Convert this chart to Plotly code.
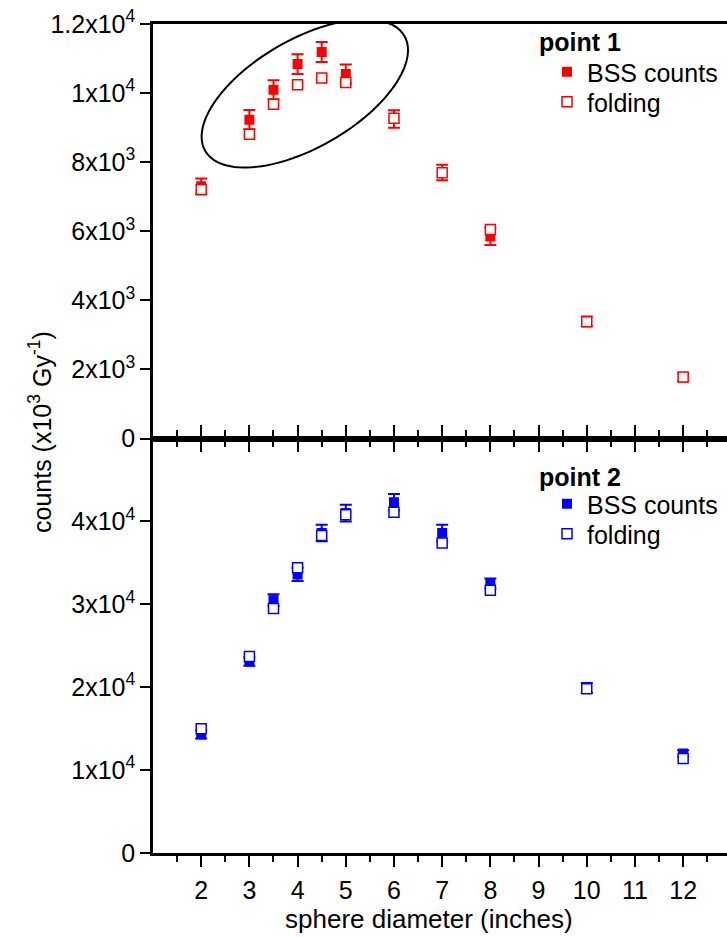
import numpy as np
import plotly.graph_objects as go

# sphere diameters (inches)
diam = [2, 3, 3.5, 4, 4.5, 5, 6, 7, 8, 10, 12]

# point 1: measured BSS counts, their uncertainties, and folded response
p1_bss = [7300, 9230, 10100, 10840, 11190, 10550, 9250, 7700, 5850, 3390, 1770]
p1_bss_err = [230, 280, 275, 285, 290, 275, 256, 227, 250, 140, 110]
p1_fold = [7210, 8810, 9680, 10240, 10440, 10310, 9270, 7690, 6050, 3380, 1780]

# point 2
p2_bss = [14300, 23100, 30500, 33600, 38600, 41000, 42300, 38600, 32500, 19900, 12000]
p2_bss_err = [500, 500, 700, 800, 1000, 1000, 1000, 1000, 600, 600, 400]
p2_fold = [15000, 23700, 29500, 34400, 38300, 40800, 41100, 37400, 31700, 19800, 11400]

# axis ticks
x_major = [2, 3, 4, 5, 6, 7, 8, 9, 10, 11, 12]
x_minor = [1.5, 2.5, 3.5, 4.5, 5.5, 6.5, 7.5, 8.5, 9.5, 10.5, 11.5, 12.5]
y1_vals = [0, 2000, 4000, 6000, 8000, 10000, 12000]
y1_text = ["0", "2x10<sup>3</sup>", "4x10<sup>3</sup>", "6x10<sup>3</sup>",
           "8x10<sup>3</sup>", "1x10<sup>4</sup>", "1.2x10<sup>4</sup>"]
y2_vals = [0, 10000, 20000, 30000, 40000]
y2_text = ["0", "1x10<sup>4</sup>", "2x10<sup>4</sup>", "3x10<sup>4</sup>", "4x10<sup>4</sup>"]

W, H = 727, 937
M = dict(l=153, r=0, t=24, b=84)
X_RANGE = [1, 12.91]
Y1_RANGE = [0, 12000]
Y2_RANGE = [0, 50000]

RED = "#ff0000"
BLUE = "#0000ff"
FONT = "Liberation Sans, Arial, Helvetica, sans-serif"
FS = 25

plot_w = W - M["l"] - M["r"]
plot_h = H - M["t"] - M["b"]


def paper_y(px_top):
    return 1 - (px_top - M["t"]) / plot_h


def paper_x(px_left):
    return (px_left - M["l"]) / plot_w


fig = go.Figure()


def add_series(y_bss, err, y_fold, color, xa, ya, leg_bss, leg_fold):
    fig.add_trace(go.Scatter(
        x=diam, y=y_bss, mode="markers", name="BSS counts",
        xaxis=xa, yaxis=ya, legend=leg_bss,
        marker=dict(symbol="square", size=10, color=color, line=dict(width=0)),
        error_y=dict(type="data", array=err, visible=True, color=color,
                     thickness=2, width=6),
    ))
    fig.add_trace(go.Scatter(
        x=diam, y=y_fold, mode="markers", name="folding",
        xaxis=xa, yaxis=ya, legend=leg_fold,
        marker=dict(symbol="square", size=10, color="white",
                    line=dict(width=1.5, color=color)),
    ))


add_series(p1_bss, p1_bss_err, p1_fold, RED, "x", "y", "legend", "legend2")
add_series(p2_bss, p2_bss_err, p2_fold, BLUE, "x2", "y2", "legend3", "legend4")

# ellipse around the 3-5 inch points of the upper panel
panel_h = plot_h / 2
kx = plot_w / (X_RANGE[1] - X_RANGE[0])       # px per inch
ky = panel_h / (Y1_RANGE[1] - Y1_RANGE[0])    # px per count
ell_cx, ell_cy = 4.15, 9990
ell_a, ell_b, ell_rot = 115, 54, np.deg2rad(30)
t = np.linspace(0, 2 * np.pi, 120)
ex = ell_a * np.cos(t) * np.cos(ell_rot) - ell_b * np.sin(t) * np.sin(ell_rot)
ey = ell_a * np.cos(t) * np.sin(ell_rot) + ell_b * np.sin(t) * np.cos(ell_rot)
px = ell_cx + ex / kx
py = ell_cy + ey / ky
path = "M " + " L ".join(f"{a:.4f},{b:.2f}" for a, b in zip(px, py)) + " Z"
fig.add_shape(type="path", path=path, xref="x", yref="y",
              line=dict(color="black", width=2))

axis_common = dict(
    range=X_RANGE, showline=True, linecolor="black", linewidth=2.5,
    ticks="outside", tickvals=x_major, ticklen=11, tickwidth=2, tickcolor="black",
    minor=dict(tickvals=x_minor, ticks="outside", ticklen=6, tickwidth=2,
               tickcolor="black", showgrid=False),
    showgrid=False, zeroline=False, ticklabelstandoff=2,
    tickfont=dict(family=FONT, size=FS, color="black"),
)
yaxis_common = dict(
    showline=True, linecolor="black", linewidth=2.5, ticks="outside",
    ticklen=10, tickwidth=2, tickcolor="black", showgrid=False, zeroline=False,
    tickfont=dict(family=FONT, size=FS, color="black"), tickmode="array",
)


def legend_at(top_px):
    return dict(x=paper_x(547), y=paper_y(top_px), xanchor="left", yanchor="top",
                bgcolor="rgba(0,0,0,0)", font=dict(family=FONT, size=FS),
                tracegroupgap=0, itemwidth=30)


fig.update_layout(
    width=W, height=H, margin=M,
    paper_bgcolor="white", plot_bgcolor="white",
    font=dict(family=FONT, size=FS, color="black"),
    showlegend=True,
    xaxis=dict(axis_common, anchor="y", domain=[0, 1], showticklabels=False,
               mirror=True),
    xaxis2=dict(axis_common, anchor="y2", domain=[0, 1], mirror="ticks"),
    yaxis=dict(yaxis_common, domain=[0.5, 1], range=Y1_RANGE, anchor="x",
               tickvals=y1_vals, ticktext=y1_text),
    yaxis2=dict(yaxis_common, domain=[0, 0.5], range=Y2_RANGE, anchor="x2",
                tickvals=y2_vals, ticktext=y2_text),
    legend=legend_at(49),
    legend2=legend_at(79),
    legend3=legend_at(481),
    legend4=legend_at(511),
    annotations=[
        dict(text="<b>point 1</b>", xref="paper", yref="paper", x=paper_x(537),
             y=paper_y(42), xanchor="left", yanchor="middle", showarrow=False,
             font=dict(family=FONT, size=FS)),
        dict(text="<b>point 2</b>", xref="paper", yref="paper", x=paper_x(537),
             y=paper_y(477), xanchor="left", yanchor="middle", showarrow=False,
             font=dict(family=FONT, size=FS)),
        dict(text="counts (x10<sup>3</sup> Gy<sup>-1</sup>)", xref="paper",
             yref="paper", x=paper_x(40), y=paper_y(432), textangle=-90,
             xanchor="center", yanchor="middle", showarrow=False,
             font=dict(family=FONT, size=FS)),
        dict(text="sphere diameter (inches)", xref="paper", yref="paper",
             x=paper_x(429), y=paper_y(919), xanchor="center", yanchor="middle",
             showarrow=False, font=dict(family=FONT, size=26)),
    ],
)

fig.write_html("out.html")
